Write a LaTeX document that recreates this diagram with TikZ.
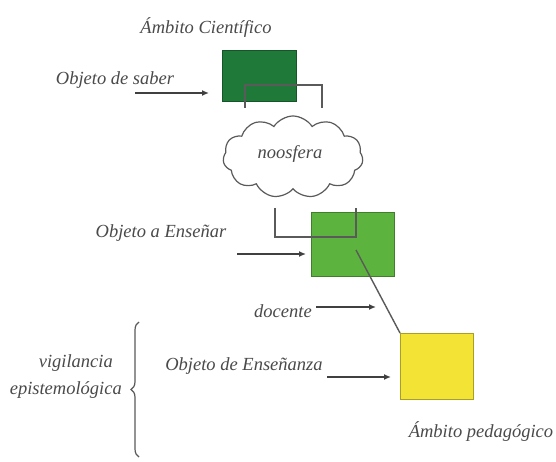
\documentclass[tikz,border=0pt]{standalone}
\usepackage{fontspec}
\setmainfont{Liberation Serif}
\usetikzlibrary{shapes.symbols,arrows.meta,decorations.pathreplacing}
\definecolor{txtgray}{HTML}{4A4A4A}
\definecolor{linegray}{HTML}{5A5A5A}
\definecolor{darkgreen}{HTML}{1F7A3A}
\definecolor{midgreen}{HTML}{5CB43E}
\definecolor{yelbox}{HTML}{F2E334}
\begin{document}
\begin{tikzpicture}[x=1pt,y=-1pt,
  lbl/.style={inner sep=0pt,text=txtgray,font=\fontsize{18.5}{20}\selectfont\itshape},
  boxa/.style={draw=#1!70!black,line width=1pt,fill=#1,inner sep=0pt,anchor=north west},
  conn/.style={draw=linegray,line width=1.4pt},
  arr/.style={draw=black!75,line width=1.4pt,-{Latex[length=7pt,width=6pt]}}]
\useasboundingbox (0,0) rectangle (556,462);
\fill[white] (0,0) rectangle (556,462);

% boxes
\node[boxa=darkgreen,minimum width=74pt,minimum height=51pt] (b1) at (222,50) {};
\node[boxa=midgreen,minimum width=83pt,minimum height=64pt] (b2) at (311,212) {};
\node[boxa=yelbox,minimum width=73pt,minimum height=66pt] (b3) at (400,333) {};

% cloud
\node[cloud,draw=linegray,line width=1.2pt,fill=white,cloud puffs=11,cloud puff arc=115,aspect=1.8,
      minimum width=140pt,minimum height=82pt,inner sep=0pt] (cl) at (293,157) {};
\node[lbl] (noos) at (290,154) {noosfera};

% connectors box1 - cloud
\coordinate (c1a) at (245,108);
\coordinate (c1b) at (322,108);
\draw[conn] (c1a) -- (245,85) -- (322,85) -- (c1b);
% connectors cloud - box2
\coordinate (c2a) at (275,208);
\coordinate (c2b) at (356,208);
\draw[conn] (c2a) -- (275,237) -- (356,237) -- (c2b);
% diagonal box2 - box3
\coordinate (d1) at (356,250);
\draw[conn] (d1) -- (b3.north west);

% labels
\node[lbl] (t1) at (206,28) {Ámbito Científico};
\node[lbl] (t2) at (115,80) {Objeto de saber};
\node[lbl] (t3) at (161,233) {Objeto a Enseñar};
\node[lbl] (t4) at (283,311) {docente};
\node[lbl] (t5) at (244,366) {Objeto de Enseñanza};
\node[lbl] (t6) at (481,432) {Ámbito pedagógico};
\node[lbl,anchor=east] (t7) at (113,363) {vigilancia};
\node[lbl,anchor=east] (t8) at (122,390) {epistemológica};

% arrows
\coordinate (a1) at (135,93);
\draw[arr,shorten >=13pt] (a1) -- (a1 -| b1.west);
\coordinate (a2) at (237,254);
\draw[arr,shorten >=5pt] (a2) -- (a2 -| b2.west);
\coordinate (a3) at (316,307);
\draw[arr] (a3) -- (376,307);
\coordinate (a4) at (327,377);
\draw[arr,shorten >=9pt] (a4) -- (a4 -| b3.west);

% brace
\coordinate (br1) at (139,457);
\coordinate (br2) at (139,322);
\draw[linegray,line width=1.2pt,decorate,decoration={brace,amplitude=8pt}] (br1) -- (br2);
\end{tikzpicture}
\end{document}
